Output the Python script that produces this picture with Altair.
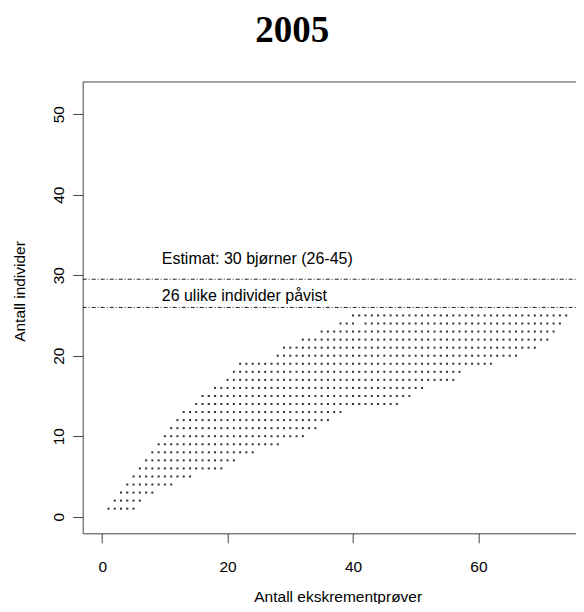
import altair as alt
import pandas as pd

# ---- data ----
x_samples = [1, 2, 3, 4, 5, 6, 7, 8, 9, 10, 11, 12, 13, 14, 15, 16, 17, 18, 19, 20,
             21, 22, 23, 24, 25, 26, 27, 28, 29, 30, 31, 32, 33, 34, 35, 36, 37, 38, 39, 40,
             41, 42, 43, 44, 45, 46, 47, 48, 49, 50, 51, 52, 53, 54, 55, 56, 57, 58, 59, 60,
             61, 62, 63, 64, 65, 66, 67, 68, 69, 70, 71, 72, 73, 74]
y_low = [1, 1, 1, 1, 1, 2, 3, 3, 4, 4, 4, 5, 5, 5, 6, 6, 6, 6, 6, 7,
         7, 8, 8, 8, 9, 9, 9, 9, 10, 10, 10, 10, 11, 11, 12, 12, 13, 13, 14, 14,
         14, 14, 14, 14, 14, 14, 14, 15, 15, 16, 16, 17, 17, 17, 17, 17, 18, 19, 19, 19,
         19, 19, 20, 20, 20, 20, 21, 21, 21, 22, 22, 23, 24, 25]
y_high = [1, 2, 3, 4, 5, 6, 7, 8, 9, 10, 11, 12, 13, 13, 14, 15, 15, 16, 16, 17,
          18, 19, 19, 19, 19, 19, 19, 20, 21, 21, 21, 22, 22, 22, 23, 23, 23, 24, 24, 25,
          25, 25, 25, 25, 25, 25, 25, 25, 25, 25, 25, 25, 25, 25, 25, 25, 25, 25, 25, 25,
          25, 25, 25, 25, 25, 25, 25, 25, 25, 25, 25, 25, 25, 25]
# (x, y) combinations inside a range that were never observed (gaps in the dot field)
gaps_x = [41]
gaps_y = [24]

line_values = [29.5, 26]
ann_labels = ["Estimat: 30 bjørner (26-45)", "26 ulike individer påvist"]
ann_x = [9.5, 9.5]
ann_y = [31.4, 26.8]

x_ticks = [0, 20, 40, 60]
y_ticks = [0, 10, 20, 30, 40, 50]

# ---- tables ----
gap_set = set(zip(gaps_x, gaps_y))
rows = []
for xv, lo, hi in zip(x_samples, y_low, y_high):
    for yv in range(lo, hi + 1):
        if (xv, yv) not in gap_set:
            rows.append({"x": xv, "y": yv})
dots = pd.DataFrame(rows)
lines = pd.DataFrame({"y": line_values})
ann = pd.DataFrame({"x": ann_x, "y": ann_y, "label": ann_labels})

W = 493.3
H = 451.3
FONT = "Liberation Sans"
FS = 15.5

xs = alt.Scale(domain=[-3.11, 75.57], nice=False, zero=False)
ys = alt.Scale(domain=[-2.06, 54.0], nice=False, zero=False)

x_enc = alt.X("x:Q", scale=xs, axis=alt.Axis(
    values=x_ticks, title="Antall ekskrementprøver", grid=False,
    tickSize=9.5, labelPadding=29, labelBaseline="alphabetic",
    titleBaseline="alphabetic", titleY=68, titleX=255,
))
y_enc = alt.Y("y:Q", scale=ys, axis=alt.Axis(
    values=y_ticks, title="Antall individer", grid=False,
    tickSize=10, labelAngle=270, labelAlign="center", labelBaseline="alphabetic",
    labelPadding=9.5, titleBaseline="alphabetic", titleX=-58, titleY=209,
))

dot_layer = alt.Chart(dots).mark_square(size=4, color="#333", opacity=1).encode(x=x_enc, y=y_enc)
line_layer = alt.Chart(lines).mark_rule(color="#222", strokeWidth=1, strokeDash=[4, 2, 1, 2]).encode(
    y=y_enc, x=alt.value(0), x2=alt.value(W))
text_layer = alt.Chart(ann).mark_text(align="left", baseline="alphabetic", font=FONT,
                                      fontSize=16, color="black").encode(x=x_enc, y=y_enc, text="label:N")
top_border = alt.Chart(pd.DataFrame({"k": [0]})).mark_rule(color="#444", strokeWidth=1).encode(
    y=alt.value(0), x=alt.value(0), x2=alt.value(W))

chart = alt.layer(dot_layer, line_layer, text_layer, top_border).properties(
    width=W, height=H,
    title=alt.TitleParams("2005", font="Liberation Serif", fontSize=37, fontWeight="bold",
                          anchor="middle", frame="group", dx=-37, offset=2,
                          baseline="alphabetic", color="black"),
    autosize=alt.AutoSizeParams(type="none"),
    padding={"left": 74.7, "top": 74, "right": 0, "bottom": 70.5},
).configure_view(stroke=None).configure_axis(
    domainColor="#444", tickColor="#444", domainWidth=1, tickWidth=1,
    labelFont=FONT, labelFontSize=FS, labelColor="black",
    titleFont=FONT, titleFontSize=FS, titleFontWeight="normal", titleColor="black",
)

chart.save("out.html", embed_options={"renderer": "svg", "actions": False})
